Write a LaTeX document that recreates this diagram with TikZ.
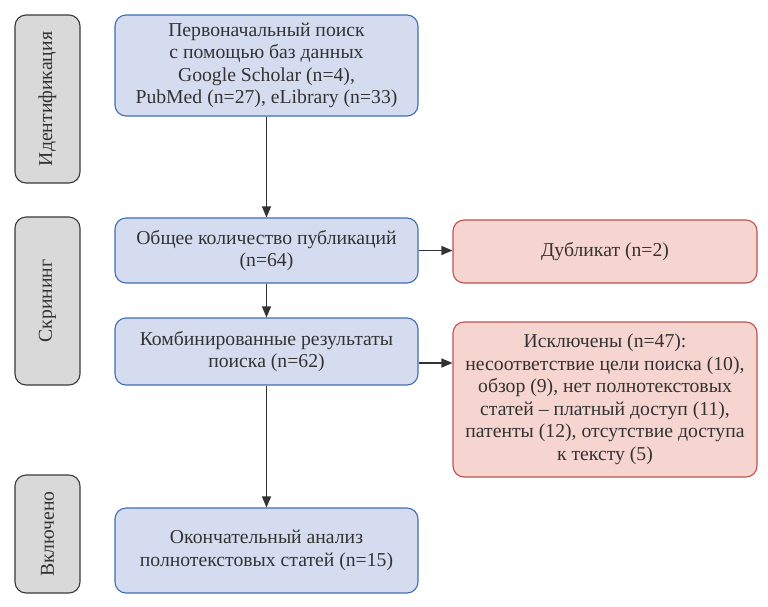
\documentclass[tikz,border=0pt]{standalone}
\usepackage{fontspec}
\setmainfont{Liberation Serif}
\newfontfamily\tnr{Liberation Serif}
\usetikzlibrary{arrows.meta,calc}
\definecolor{bfill}{HTML}{D6DCEF}
\definecolor{bdraw}{HTML}{3F6DB5}
\definecolor{rfill}{HTML}{F6D4D0}
\definecolor{rdraw}{HTML}{C0504D}
\definecolor{gfill}{HTML}{D9D9D9}
\definecolor{gdraw}{HTML}{3A3A3A}
\definecolor{tcol}{HTML}{333333}
\begin{document}
\begin{tikzpicture}[x=1pt,y=-1pt,
  txt/.style={font=\tnr\fontsize{19.7}{22.5}\selectfont, text=tcol},
  box/.style={draw, rounded corners=11pt, line width=1.1pt, align=center, inner sep=0pt, txt},
  bluebox/.style={box, fill=bfill, draw=bdraw, minimum width=303pt},
  redbox/.style={box, fill=rfill, draw=rdraw, minimum width=304pt},
  sidebox/.style={box, fill=gfill, draw=gdraw, minimum width=65pt},
  arr/.style={-{Triangle[length=11pt,width=9pt]}, line width=1.1pt, draw=tcol}]
\useasboundingbox (0,0) rectangle (768,606);
% side boxes
\node[sidebox, minimum height=168pt] (s1) at (47.5,99) {};
\node[rotate=90, txt] (t1) at (s1.center) {Идентификация};
\node[sidebox, minimum height=168pt] (s2) at (47.5,301) {};
\node[rotate=90, txt] (t2) at (s2.center) {Скрининг};
\node[sidebox, minimum height=118pt] (s3) at (47.5,534) {};
\node[rotate=90, txt] (t3) at (s3.center) {Включено};
% main boxes
\node[bluebox, minimum height=101pt] (b1) at (266.5,65.5) {Первоначальный поиск\\с помощью баз данных\\Google Scholar (n=4),\\PubMed (n=27), eLibrary (n=33)};
\node[bluebox, minimum height=65pt] (b2) at (266.5,250.5) {Общее количество публикаций\\(n=64)};
\node[bluebox, minimum height=67pt] (b3) at (266.5,351.5) {Комбинированные результаты\\поиска (n=62)};
\node[bluebox, minimum height=85pt] (b4) at (266.5,550.5) {Окончательный анализ\\полнотекстовых статей (n=15)};
% right boxes
\node[redbox, minimum height=63pt] (d) at (605,251.5) {Дубликат (n=2)};
\node[redbox, minimum height=155pt] (e) at (605,399.5) {Исключены (n=47):\\несоответствие цели поиска (10),\\обзор (9), нет полнотекстовых\\статей – платный доступ (11),\\патенты (12), отсутствие доступа\\к тексту (5)};
% arrows
\draw[arr] (b1) -- (b2);
\draw[arr] (b2) -- (b3);
\draw[arr] (b3) -- (b4);
\draw[arr] (b2.east) -- (d.west |- b2.east);
\coordinate (c3) at ($(b3.east)+(0,11.5)$);
\draw[arr] (c3) -- (e.west |- c3);
\end{tikzpicture}
\end{document}
